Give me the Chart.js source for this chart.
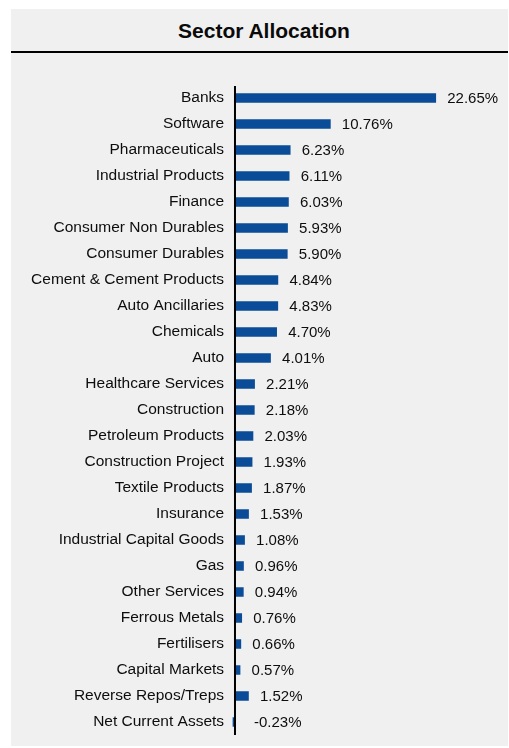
<!DOCTYPE html>
<html>
<head>
<meta charset="utf-8">
<script src="https://cdn.jsdelivr.net/npm/chart.js@4.4.1/dist/chart.umd.min.js"></script>
<style>
  html, body { margin: 0; padding: 0; background: #ffffff; }
  #panel {
    position: absolute; left: 11px; top: 9px; width: 497px; height: 737px;
    background: #f0f0f0;
  }
  #title {
    font: bold 21px "Liberation Sans", Arial, sans-serif;
    height: 42px; line-height: 44px; text-align: center;
    padding-left: 9px; box-sizing: content-box; width: 488px;
    color: #0a0a0a;
    border-bottom: 2px solid #000;
  }
  #chart { display: block; }
</style>
</head>
<body>
<div id="panel">
  <div id="title">Sector Allocation</div>
  <canvas id="chart" width="497" height="693"></canvas>
</div>
<script>
// Sector names, top to bottom
const sectors = [
  "Banks", "Software", "Pharmaceuticals", "Industrial Products", "Finance",
  "Consumer Non Durables", "Consumer Durables", "Cement & Cement Products",
  "Auto Ancillaries", "Chemicals", "Auto", "Healthcare Services", "Construction",
  "Petroleum Products", "Construction Project", "Textile Products", "Insurance",
  "Industrial Capital Goods", "Gas", "Other Services", "Ferrous Metals",
  "Fertilisers", "Capital Markets", "Reverse Repos/Treps", "Net Current Assets"
];

// Allocation in percent of net assets
const allocation = [
  22.65, 10.76, 6.23, 6.11, 6.03,
  5.93, 5.90, 4.84,
  4.83, 4.70, 4.01, 2.21, 2.18,
  2.03, 1.93, 1.87, 1.53,
  1.08, 0.96, 0.94, 0.76,
  0.66, 0.57, 1.52, -0.23
];

const FONT = "'Liberation Sans', Arial, sans-serif";
const TEXT = '#0d0d0d';
const BLUE = '#0a4c97';

// Vertical baseline through the zero value
const zeroLine = {
  id: 'zeroLine',
  afterDatasetsDraw(chart) {
    const { ctx, chartArea, scales } = chart;
    const x0 = scales.x.getPixelForValue(0);
    ctx.save();
    ctx.strokeStyle = '#000';
    ctx.lineWidth = 2;
    ctx.beginPath();
    ctx.moveTo(x0, chartArea.top + 1);
    ctx.lineTo(x0, chartArea.bottom);
    ctx.stroke();
    ctx.restore();
  }
};

// Percentage label to the right of each bar
const valueLabels = {
  id: 'valueLabels',
  afterDatasetsDraw(chart) {
    const { ctx, scales } = chart;
    const meta = chart.getDatasetMeta(0);
    const values = chart.data.datasets[0].data;
    ctx.save();
    ctx.font = '15px ' + FONT;
    ctx.fillStyle = TEXT;
    ctx.textAlign = 'left';
    ctx.textBaseline = 'middle';
    meta.data.forEach((bar, i) => {
      const v = values[i];
      const x = v >= 0
        ? scales.x.getPixelForValue(v) + 11.5
        : scales.x.getPixelForValue(0) + 19;
      ctx.fillText(v.toFixed(2) + '%', x, bar.y + 1);
    });
    ctx.restore();
  }
};

new Chart(document.getElementById('chart'), {
  type: 'bar',
  data: {
    labels: sectors,
    datasets: [{
      data: allocation,
      backgroundColor: BLUE,
      borderWidth: 0,
      barThickness: 9
    }]
  },
  options: {
    indexAxis: 'y',
    responsive: false,
    animation: false,
    devicePixelRatio: 1,
    layout: { padding: { top: 32, bottom: 11, left: 0, right: 0 } },
    plugins: {
      legend: { display: false },
      tooltip: { enabled: false },
      title: { display: false }
    },
    scales: {
      x: {
        display: false,
        min: -0.5,
        max: 30.8
      },
      y: {
        border: { display: false },
        grid: { display: false, drawTicks: false },
        ticks: {
          autoSkip: false,
          padding: 6.5,
          color: TEXT,
          font: { family: FONT, size: 15.5 }
        },
        afterFit(scale) {
          scale.width = 219.56;
          scale.paddingTop = 0;
          scale.paddingBottom = 0;
        }
      }
    }
  },
  plugins: [zeroLine, valueLabels]
});
</script>
</body>
</html>
